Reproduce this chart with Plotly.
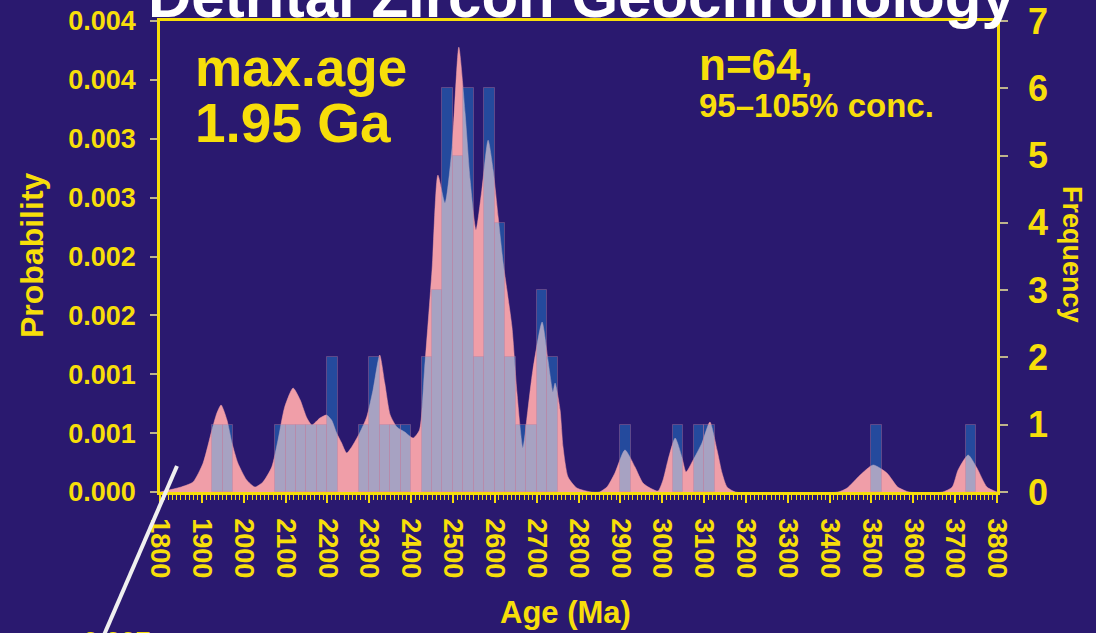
import plotly.graph_objects as go

# ---------------- data ----------------
# histogram bins (left edge, Ma) and counts, bin width 25 Ma
bin_left = [1925, 1950, 2075, 2100, 2125, 2150, 2175, 2200, 2275, 2300, 2325, 2350, 2375,
            2425, 2450, 2475, 2500, 2525, 2550, 2575, 2600, 2625, 2650, 2675, 2700, 2725,
            2900, 3025, 3075, 3100, 3500, 3725]
bin_count = [1, 1, 1, 1, 1, 1, 1, 2, 1, 2, 1, 1, 1,
             2, 3, 6, 5, 6, 2, 6, 4, 2, 1, 1, 3, 2,
             1, 1, 1, 1, 1, 1]
bin_width = 25

# probability density curve
kde_age = [1800, 1848, 1879, 1903, 1924, 1936, 1946, 1960, 1972, 1986, 2007, 2027, 2046, 2067,
           2082, 2098, 2118, 2135, 2151, 2163, 2182, 2198, 2210, 2222, 2234, 2246, 2258, 2277,
           2294, 2309, 2325, 2337, 2350, 2366, 2385, 2405, 2420, 2432, 2450, 2464, 2481, 2498,
           2514, 2529, 2541, 2555, 2569, 2584, 2596, 2608, 2620, 2629, 2641, 2653, 2667, 2679,
           2691, 2713, 2727, 2739, 2744, 2756, 2763, 2775, 2796, 2830, 2850, 2868, 2887, 2911,
           2935, 2954, 2971, 2990, 3002, 3014, 3031, 3047, 3057, 3074, 3095, 3114, 3131, 3143,
           3155, 3175, 3420, 3442, 3473, 3504, 3537, 3563, 3590, 3670, 3693, 3707, 3731, 3752,
           3776, 3800]
kde_prob = [0.0, 0.00004, 0.000085, 0.000246, 0.000526, 0.000671, 0.000739, 0.000611, 0.000416,
            0.000246, 0.000102, 0.000042, 0.000085, 0.000212, 0.000441, 0.000722, 0.000883,
            0.000781, 0.000628, 0.000569, 0.000628, 0.000654, 0.000611, 0.000501, 0.000416,
            0.000331, 0.000382, 0.000501, 0.000637, 0.000866, 0.001163, 0.000925, 0.000654,
            0.000552, 0.000509, 0.000458, 0.000526, 0.001036, 0.001885, 0.002691, 0.002454,
            0.002929, 0.003778, 0.003218, 0.002649, 0.002224, 0.002564, 0.002988, 0.002734,
            0.002335, 0.001944, 0.001715, 0.001401, 0.000841, 0.000374, 0.000696, 0.001036,
            0.001443, 0.001121, 0.000849, 0.000925, 0.000696, 0.000382, 0.000127, 0.000034,
            0.0, 0.0, 0.000042, 0.000161, 0.000357, 0.000212, 0.000076, 0.000034, 0.000008,
            0.000102, 0.000272, 0.000458, 0.000297, 0.00017, 0.000272, 0.000416, 0.000594,
            0.000357, 0.000161, 0.000042, 0.0, 0.0, 0.000034, 0.000144, 0.000229, 0.000161,
            0.000042, 0.0, 0.0, 0.000042, 0.000187, 0.000314, 0.000204, 0.000042, 0.0]

x_ticks = list(range(1800, 3801, 100))
x_ticktext = [str(v) for v in x_ticks]
y_ticks = [0, 0.0005, 0.001, 0.0015, 0.002, 0.0025, 0.003, 0.0035, 0.004]
y_ticktext = ["0.000", "0.001", "0.001", "0.002", "0.002", "0.003", "0.003", "0.004", "0.004"]
y2_ticks = [0, 1, 2, 3, 4, 5, 6, 7]
y2_ticktext = ["0", "1", "2", "3", "4", "5", "6", "7"]

# ---------------- style ----------------
BG = "rgb(42,25,111)"
YEL = "rgb(247,222,10)"
FONT = "Liberation Sans, Arial, sans-serif"

bin_center = [b + bin_width / 2 for b in bin_left]

fig = go.Figure()
fig.add_trace(go.Scatter(
    x=kde_age, y=kde_prob, mode="lines", line=dict(color="rgb(240,158,168)", width=0.5,
                                                   shape="spline", smoothing=0.6),
    fill="tozeroy", fillcolor="rgb(240,158,168)", yaxis="y", showlegend=False,
    hoverinfo="skip"))
fig.add_trace(go.Bar(
    x=bin_center, y=bin_count, width=[bin_width] * len(bin_left),
    marker=dict(color="rgba(25,170,245,0.34)",
                line=dict(width=1, color="rgba(200,120,150,0.35)")),
    yaxis="y2", showlegend=False))

fig.update_layout(
    width=1096, height=633,
    margin=dict(l=160, r=99, t=21, b=141, autoexpand=False),
    paper_bgcolor=BG, plot_bgcolor=BG,
    bargap=0,
    font=dict(family=FONT, color=YEL),
    xaxis=dict(range=[1800, 3800], tickvals=x_ticks, ticktext=x_ticktext, tickangle=90,
               tickfont=dict(size=27, color=YEL, weight="bold"), ticks="outside", ticklen=8,
               tickwidth=1.5, tickcolor=YEL, ticklabelstandoff=10, automargin=False,
               minor=dict(dtick=10, ticklen=5, tickcolor=YEL, tickwidth=1.2, ticks="outside"),
               showline=True, linecolor=YEL, linewidth=2.5, mirror=True,
               showgrid=False, zeroline=False),
    yaxis=dict(range=[0, 0.004], tickvals=y_ticks, ticktext=y_ticktext,
               tickfont=dict(size=27, color=YEL, weight="bold"), ticks="outside", ticklen=7,
               tickcolor="rgb(190,180,140)", tickwidth=1.5, ticklabelstandoff=9,
               automargin=False, showline=True, linecolor=YEL, linewidth=2.5,
               showgrid=False, zeroline=False),
    yaxis2=dict(range=[0, 7], overlaying="y", side="right", tickvals=y2_ticks,
                ticktext=y2_ticktext, tickfont=dict(size=36, color=YEL, weight="bold"),
                ticks="outside", ticklen=8, tickcolor="rgb(190,180,140)", tickwidth=1.5,
                ticklabelstandoff=13, automargin=False, showline=True, linecolor=YEL,
                linewidth=2.5, showgrid=False, zeroline=False),
)

def ann(text, x, y, size, color=YEL, xanchor="center", yanchor="middle", angle=0):
    fig.add_annotation(text=text, x=x, y=y, xref="paper", yref="paper", showarrow=False,
                       xanchor=xanchor, yanchor=yanchor, textangle=angle,
                       font=dict(family=FONT, size=size, color=color, weight="bold"))

ann("Detrital Zircon Geochronology", 0.504, 1.053, 60, color="white")
ann("max.age", 0.040, 0.902, 53, xanchor="left")
ann("1.95 Ga", 0.040, 0.783, 55, xanchor="left")
ann("n=64,", 0.641, 0.907, 44, xanchor="left")
ann("95–105% conc.", 0.641, 0.820, 33, xanchor="left")
ann("Probability", -0.153, 0.503, 32, angle=-90)
ann("Frequency", 1.0896, 0.503, 27, angle=90)
ann("Age (Ma)", 0.484, -0.255, 31)
ann("0.007", -0.051, -0.318, 27)

fig.add_shape(type="line", xref="paper", yref="paper", x0=0.0203, y0=0.0552,
              x1=-0.0777, y1=-0.348, line=dict(color="rgb(240,240,240)", width=4))

fig.write_html("out.html")
